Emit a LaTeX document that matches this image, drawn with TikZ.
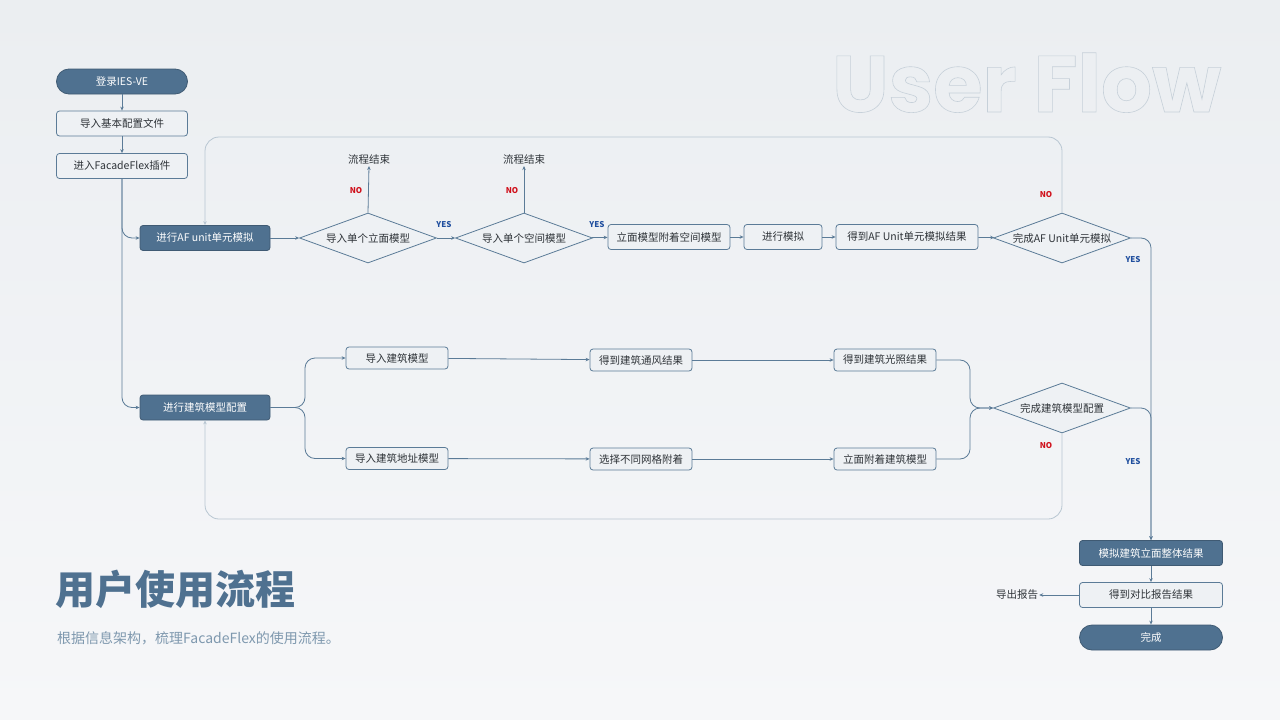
\documentclass[tikz,border=0pt]{standalone}
\usepackage{fontspec}
\setmainfont{Noto Sans CJK SC}
\newfontfamily\flowfont{Poppins}
\usetikzlibrary{shapes.geometric,arrows.meta}

\definecolor{bgtop}{HTML}{EBEEF1}
\definecolor{bgbot}{HTML}{F6F7F9}
\definecolor{navy}{HTML}{4F7190}
\definecolor{edge}{HTML}{5B7B97}
\definecolor{paper}{HTML}{EEF1F4}
\definecolor{faint}{HTML}{B8C6D2}
\definecolor{inkdark}{HTML}{2E3338}
\definecolor{nored}{HTML}{D0101B}
\definecolor{yesblue}{HTML}{1F4E9E}
\definecolor{subgray}{HTML}{7E98AE}
\definecolor{ghost}{HTML}{C6D0D9}

\tikzset{
  boxfont/.style={font=\fontsize{10.5}{12}\selectfont},
  darkbox/.style={boxfont, draw=navy!80!black, fill=navy, text=white, rounded corners=3pt,
    minimum height=25pt, minimum width=130pt, line width=0.8pt},
  pillbox/.style={darkbox, rounded corners=12.5pt, minimum width=131pt},
  lightbox/.style={boxfont, draw=edge, fill=paper, text=inkdark, rounded corners=3pt,
    minimum height=25pt, inner xsep=8pt, line width=0.8pt},
  decision/.style={boxfont, diamond, aspect=2.74, draw=edge, fill=paper, text=inkdark,
    inner sep=0pt, minimum width=137pt, minimum height=50pt, line width=0.8pt},
  endtext/.style={boxfont, text=inkdark, inner sep=1pt},
  flow/.style={draw=edge, line width=0.8pt, rounded corners=10pt, -{Stealth[length=4pt,width=3.5pt]}},
  backflow/.style={draw=faint, line width=0.8pt, rounded corners=14pt, -{Stealth[length=4pt,width=3.5pt]}},
  nolabel/.style={text=nored, font=\fontsize{8}{9}\selectfont\bfseries, inner sep=0pt},
  yeslabel/.style={text=yesblue, font=\fontsize{8}{9}\selectfont\bfseries, inner sep=0pt}
}

\begin{document}
\begin{tikzpicture}[x=1pt,y=-1pt]
\shade[top color=bgtop, bottom color=bgbot] (0,0) rectangle (1280,720);
\useasboundingbox (0,0) rectangle (1280,720);

\node[anchor=base west, inner sep=0pt, text=ghost] (ghostword) at (832,112)
  {\flowfont\bfseries\fontsize{80}{80}\selectfont\special{pdf:code 1 Tr 0.6 w}User Flow\special{pdf:code 0 Tr}};

\node[pillbox] (login) at (122,81.5) {登录IES-VE};
\node[lightbox, minimum width=131pt] (conf) at (122,123.5) {导入基本配置文件};
\node[lightbox, minimum width=131pt] (plugin) at (122,166) {进入FacadeFlex插件};

\node[darkbox] (afsim) at (205,238) {进行AF unit单元模拟};
\node[decision] (facade) at (368,238) {导入单个立面模型};
\node[decision] (space) at (524,238) {导入单个空间模型};
\node[lightbox, minimum width=122pt] (attach) at (669,237) {立面模型附着空间模型};
\node[lightbox, minimum width=78pt] (sim) at (783,237) {进行模拟};
\node[lightbox, minimum width=142pt] (afres) at (907,237) {得到AF Unit单元模拟结果};
\node[decision] (afdone) at (1062,238) {完成AF Unit单元模拟};

\node[endtext] (stop1) at (369,160) {流程结束};
\node[endtext] (stop2) at (524,160) {流程结束};

\node[darkbox] (bldcfg) at (205,407.5) {进行建筑模型配置};
\node[lightbox, minimum width=102pt, minimum height=22pt] (bldimp) at (397,358) {导入建筑模型};
\node[lightbox, minimum width=102pt, minimum height=22pt] (siteimp) at (397,458.5) {导入建筑地址模型};
\node[lightbox, minimum width=102pt, minimum height=22pt] (wind) at (641,360) {得到建筑通风结果};
\node[lightbox, minimum width=102pt, minimum height=22pt] (grid) at (641,459) {选择不同网格附着};
\node[lightbox, minimum width=102pt, minimum height=22pt] (light) at (885,360) {得到建筑光照结果};
\node[lightbox, minimum width=102pt, minimum height=22pt] (bldatt) at (885,459) {立面附着建筑模型};
\node[decision] (blddone) at (1062,408) {完成建筑模型配置};

\node[darkbox, minimum width=143pt] (whole) at (1151,553) {模拟建筑立面整体结果};
\node[lightbox, minimum width=143pt] (report) at (1151,595) {得到对比报告结果};
\node[pillbox, minimum width=143pt] (finish) at (1151,637.5) {完成};
\node[endtext] (export) at (1017,595) {导出报告};

\node[nolabel] (no1) at (356,191) {NO};
\node[nolabel] (no2) at (512,191) {NO};
\node[nolabel] (no3) at (1046,195) {NO};
\node[nolabel] (no4) at (1046,446) {NO};
\node[yeslabel] (yes1) at (444,225) {YES};
\node[yeslabel] (yes2) at (597,225) {YES};
\node[yeslabel] (yes3) at (1133,260) {YES};
\node[yeslabel] (yes4) at (1133,462) {YES};

\coordinate (looptop) at (205,137);
\coordinate (loopbot) at (205,519);
\coordinate (split) at (305,407.5);
\coordinate (join) at (970,408);

\draw[flow] (login) -- (conf);
\draw[flow] (conf) -- (plugin);
\draw[flow] (plugin.south) |- (afsim.west);
\draw[flow] (plugin.south) |- (bldcfg.west);

\draw[flow] (afsim) -- (facade);
\draw[flow] (facade) -- (space);
\draw[flow] (space) -- (attach);
\draw[flow] (attach) -- (sim);
\draw[flow] (sim) -- (afres);
\draw[flow] (afres) -- (afdone);
\draw[flow] (facade.north) -- (stop1.south);
\draw[flow] (space.north) -- (stop2.south);
\draw[backflow] (afdone.north) |- (looptop) -- (afsim.north);
\draw[flow] (afdone.east) -| (whole.north);

\draw[flow] (bldcfg.east) -- (split) |- (bldimp.west);
\draw[flow] (bldcfg.east) -- (split) |- (siteimp.west);
\draw[flow] (bldimp) -- (wind);
\draw[flow] (wind) -- (light);
\draw[flow] (siteimp) -- (grid);
\draw[flow] (grid) -- (bldatt);
\draw[flow] (light.east) -| (join) -- (blddone.west);
\draw[flow] (bldatt.east) -| (join) -- (blddone.west);
\draw[backflow] (blddone.south) |- (loopbot) -- (bldcfg.south);
\draw[flow] (blddone.east) -| (whole.north);

\draw[flow] (whole) -- (report);
\draw[flow] (report) -- (finish);
\draw[flow] (report.west) -- (export.east);

\node[anchor=west, inner sep=0pt, text=navy, font=\fontsize{40}{44}\selectfont\bfseries] (title) at (55,589) {用户使用流程};
\node[anchor=west, inner sep=0pt, text=subgray, font=\fontsize{14}{16}\selectfont] (subtitle) at (57,638) {根据信息架构，梳理FacadeFlex的使用流程。};
\end{tikzpicture}
\end{document}
